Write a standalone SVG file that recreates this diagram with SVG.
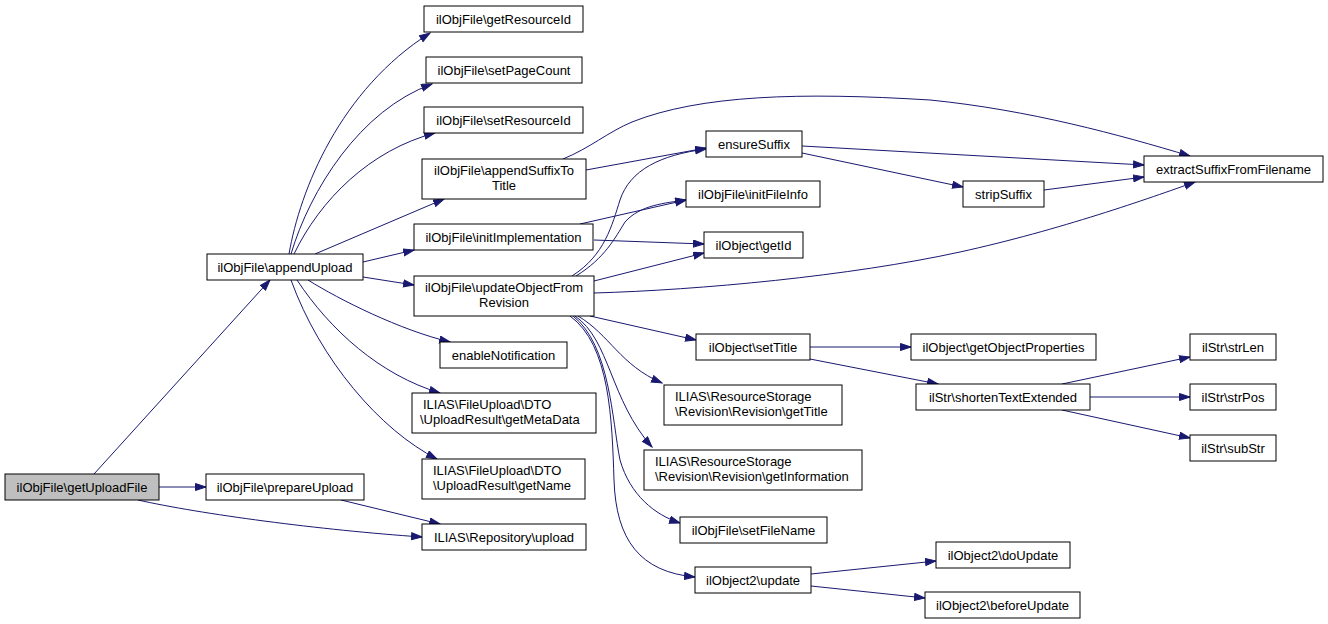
<svg xmlns="http://www.w3.org/2000/svg" width="1328" height="624" viewBox="0 0 1328 624">
<style>
rect{fill:#fff;stroke:#000;stroke-width:1}
rect.root{fill:#bfbfbf}
text{font-family:"Liberation Sans",Arial,sans-serif;font-size:13px;fill:#000;text-anchor:middle}
text.l{text-anchor:start}
#edges path{fill:none;stroke:#191970;stroke-width:1;marker-end:url(#ah)}
</style>
<defs>
<marker id="ah" markerUnits="userSpaceOnUse" markerWidth="12" markerHeight="9" refX="11" refY="4" orient="auto"><path d="M0.5,0.5 L11,4 L0.5,7.5 z" fill="#191970" stroke="#191970"/></marker>
</defs>
<rect x="0" y="0" width="1328" height="624" style="fill:#fff;stroke:none"/>
<g id="edges">
<path d="M94,474 L270,280"/>
<path d="M159,487 L206,487"/>
<path d="M138,500 C200,514 320,530 422,537"/>
<path d="M341,500 L440,524"/>
<path d="M289,254 C300,190 340,90 430,33"/>
<path d="M291,254 C310,190 360,110 432,84"/>
<path d="M294,254 C320,200 370,150 435,133"/>
<path d="M315,254 L444,199"/>
<path d="M363,262 L414,250"/>
<path d="M363,277 L414,285"/>
<path d="M308,280 C340,300 400,330 450,342"/>
<path d="M297,280 C330,330 380,375 440,393"/>
<path d="M291,280 C320,360 380,430 437,459"/>
<path d="M586,170 L706,148"/>
<path d="M563,159 C590,148 608,132 632,122 C700,95 800,92 930,100 C1030,110 1120,135 1190,156"/>
<path d="M802,146 L1144,165"/>
<path d="M802,153 L963,187"/>
<path d="M1044,190 L1144,177"/>
<path d="M580,224 L686,200"/>
<path d="M594,240 L704,244"/>
<path d="M572,276 C605,255 612,225 620,200 C630,170 660,155 706,149"/>
<path d="M576,276 C605,258 615,238 625,222 C640,205 665,203 686,200"/>
<path d="M594,281 L704,253"/>
<path d="M594,293 C700,290 850,276 960,252 C1060,230 1150,198 1195,182"/>
<path d="M590,316 L696,340"/>
<path d="M578,316 C610,335 620,365 662,383"/>
<path d="M575,316 C610,340 610,400 652,447"/>
<path d="M573,316 C610,345 612,420 620,460 C630,495 655,515 680,523"/>
<path d="M570,316 C610,345 612,420 614,480 C616,540 640,572 695,577"/>
<path d="M810,347 L911,347"/>
<path d="M810,359 L938,384"/>
<path d="M1062,384 L1190,357"/>
<path d="M1090,397 L1190,397"/>
<path d="M1062,410 L1190,438"/>
<path d="M811,574 L936,561"/>
<path d="M811,586 L925,598"/>
</g>
<g id="n1"><rect class="root" x="5" y="474" width="154" height="26"/><text x="82" y="491.5">ilObjFile\getUploadFile</text></g>
<g id="n2"><rect x="207" y="254" width="156" height="26"/><text x="285" y="271.5">ilObjFile\appendUpload</text></g>
<g id="n3"><rect x="206" y="474" width="158" height="26"/><text x="285" y="491.5">ilObjFile\prepareUpload</text></g>
<g id="n4"><rect x="424" y="6" width="159" height="26"/><text x="503.5" y="23.5">ilObjFile\getResourceId</text></g>
<g id="n5"><rect x="426" y="57" width="156" height="26"/><text x="504" y="74.5">ilObjFile\setPageCount</text></g>
<g id="n6"><rect x="424" y="107" width="159" height="26"/><text x="503.5" y="124.5">ilObjFile\setResourceId</text></g>
<g id="n7"><rect x="422" y="159" width="164" height="40"/><text x="504" y="175">ilObjFile\appendSuffixTo</text><text x="504" y="189.5">Title</text></g>
<g id="n8"><rect x="414" y="224" width="179" height="26"/><text x="503.5" y="241.5">ilObjFile\initImplementation</text></g>
<g id="n9"><rect x="414" y="276" width="180" height="40"/><text x="504" y="292">ilObjFile\updateObjectFrom</text><text x="504" y="306.5">Revision</text></g>
<g id="n10"><rect x="440" y="342" width="127" height="26"/><text x="503.5" y="359.5">enableNotification</text></g>
<g id="n11"><rect x="412" y="393" width="184" height="40"/><text class="l" x="423" y="409">ILIAS\FileUpload\DTO</text><text class="l" x="420" y="423.5">\UploadResult\getMetaData</text></g>
<g id="n12"><rect x="422" y="459" width="163" height="40"/><text class="l" x="433" y="475">ILIAS\FileUpload\DTO</text><text class="l" x="433" y="489.5">\UploadResult\getName</text></g>
<g id="n13"><rect x="422" y="524" width="164" height="26"/><text x="504" y="541.5">ILIAS\Repository\upload</text></g>
<g id="n14"><rect x="706" y="131" width="96" height="26"/><text x="754" y="148.5">ensureSuffix</text></g>
<g id="n15"><rect x="686" y="181" width="134" height="26"/><text x="753" y="198.5">ilObjFile\initFileInfo</text></g>
<g id="n16"><rect x="704" y="232" width="99" height="26"/><text x="753.5" y="249.5">ilObject\getId</text></g>
<g id="n17"><rect x="696" y="334" width="114" height="26"/><text x="753" y="351.5">ilObject\setTitle</text></g>
<g id="n18"><rect x="664" y="385" width="178" height="40"/><text class="l" x="675" y="401">ILIAS\ResourceStorage</text><text class="l" x="675" y="415.5">\Revision\Revision\getTitle</text></g>
<g id="n19"><rect x="644" y="450" width="218" height="40"/><text class="l" x="655" y="466">ILIAS\ResourceStorage</text><text class="l" x="655" y="480.5">\Revision\Revision\getInformation</text></g>
<g id="n20"><rect x="680" y="517" width="147" height="26"/><text x="753.5" y="534.5">ilObjFile\setFileName</text></g>
<g id="n21"><rect x="695" y="567" width="116" height="26"/><text x="753" y="584.5">ilObject2\update</text></g>
<g id="n22"><rect x="963" y="181" width="81" height="26"/><text x="1003.5" y="198.5">stripSuffix</text></g>
<g id="n23"><rect x="911" y="334" width="185" height="26"/><text x="1003.5" y="351.5">ilObject\getObjectProperties</text></g>
<g id="n24"><rect x="916" y="384" width="174" height="26"/><text x="1003" y="401.5">ilStr\shortenTextExtended</text></g>
<g id="n25"><rect x="936" y="542" width="134" height="26"/><text x="1003" y="559.5">ilObject2\doUpdate</text></g>
<g id="n26"><rect x="925" y="592" width="155" height="26"/><text x="1002.5" y="609.5">ilObject2\beforeUpdate</text></g>
<g id="n27"><rect x="1144" y="156" width="179" height="26"/><text x="1233.5" y="173.5">extractSuffixFromFilename</text></g>
<g id="n28"><rect x="1190" y="334" width="86" height="26"/><text x="1233" y="351.5">ilStr\strLen</text></g>
<g id="n29"><rect x="1190" y="384" width="86" height="26"/><text x="1233" y="401.5">ilStr\strPos</text></g>
<g id="n30"><rect x="1190" y="435" width="86" height="26"/><text x="1233" y="452.5">ilStr\subStr</text></g>
</svg>
